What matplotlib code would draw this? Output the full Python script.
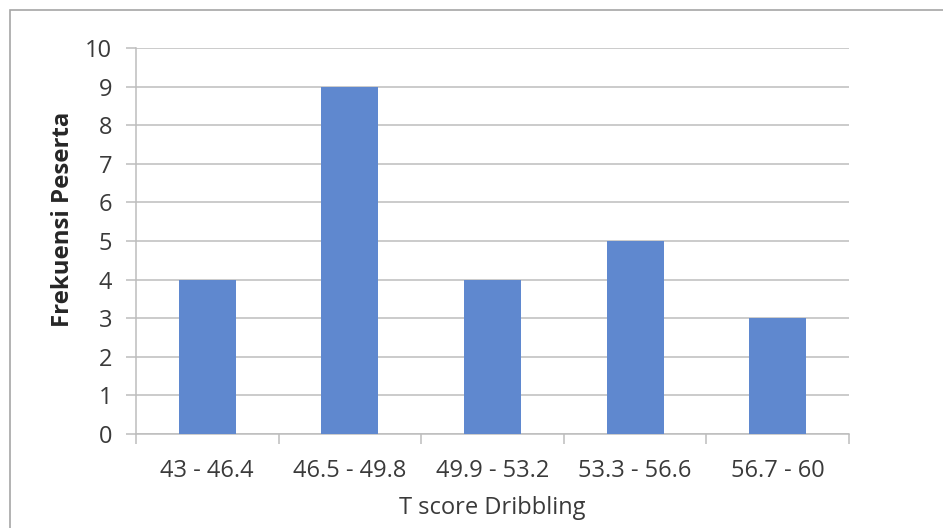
import matplotlib
matplotlib.use("Agg")
import matplotlib.pyplot as plt
from matplotlib.patches import Rectangle
import numpy as np

categories = ["43 - 46.4", "46.5 - 49.8", "49.9 - 53.2", "53.3 - 56.6", "56.7 - 60"]
frequencies = [4, 9, 4, 5, 3]
y_ticks = list(range(0, 11))

plt.rcParams["font.family"] = ["Open Sans", "DejaVu Sans"]

fig = plt.figure(figsize=(9.43, 5.28), dpi=100)
ax = fig.add_axes([0.1442, 0.178, 0.7561, 0.731])

# frame around the chart area
fig.patches.append(Rectangle((10 / 943, -0.1), 1.2, 1 - 10 / 528 + 0.1,
                             transform=fig.transFigure, fill=False,
                             edgecolor="#A6A6A6", linewidth=1.2))

x = np.arange(len(categories))
ax.bar(x, frequencies, width=0.4, color="#5F88CF", zorder=3)

ax.set_xlim(-0.5, len(categories) - 0.5)
ax.set_ylim(0, 10)
ax.set_yticks(y_ticks)
ax.grid(axis="y", color="#BDBDBD", linewidth=1.1, zorder=0)

for side in ["top", "right"]:
    ax.spines[side].set_visible(False)
for side in ["left", "bottom"]:
    ax.spines[side].set_color("#BDBDBD")
    ax.spines[side].set_linewidth(1.1)

ax.set_xticks(x)
ax.set_xticklabels(categories)
ax.set_xticks(np.arange(-0.5, len(categories)), minor=True)
ax.tick_params(axis="x", which="major", length=0, pad=18, labelsize=17, labelcolor="#3A3A3A")
ax.tick_params(axis="x", which="minor", length=7, width=1.1, color="#BDBDBD", direction="out")
ax.tick_params(axis="y", length=7, width=1.1, color="#BDBDBD", pad=10, labelsize=17, labelcolor="#3A3A3A")

ax.set_xlabel("T score Dribbling", fontsize=17, color="#3A3A3A", labelpad=9)
ax.set_ylabel("Frekuensi Peserta", fontsize=17.3, fontweight="bold", color="#262626")
ax.yaxis.set_label_coords(-0.086, 0.555)

fig.savefig("out.png", dpi=100)
